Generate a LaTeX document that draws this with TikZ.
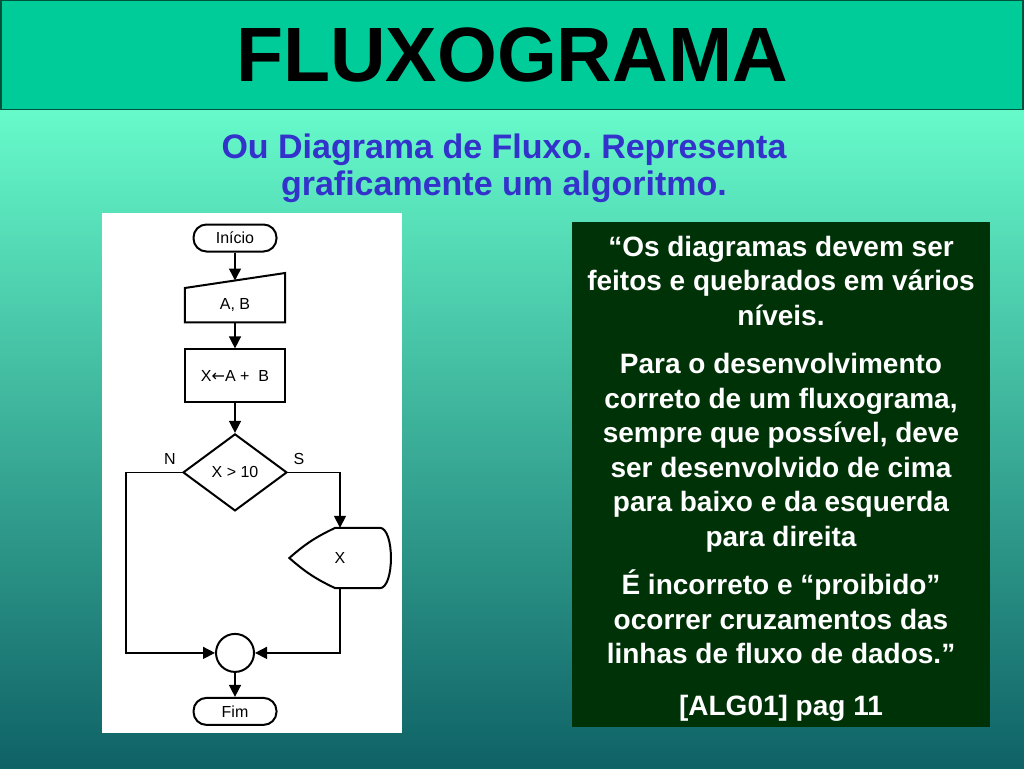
\documentclass[tikz,border=0pt]{standalone}
\usepackage{fontspec}
\setmainfont{Liberation Sans}
\newfontfamily\simbolos{DejaVu Sans}
\usetikzlibrary{arrows.meta, shapes.geometric, positioning}
\frenchspacing
\definecolor{barra}{RGB}{0,204,153}
\definecolor{menta}{RGB}{102,250,202}
\definecolor{meiotom}{RGB}{72,190,162}
\definecolor{petroleo}{RGB}{15,98,102}
\definecolor{azulsub}{RGB}{51,51,204}
\definecolor{verdeescuro}{RGB}{0,50,8}
\tikzset{%
  >={Triangle[width=12pt,length=12pt]},
  % Specifications for style of nodes:
        base/.style = {draw=black, line width=2pt, inner sep=0pt,
                           font=\fontsize{16}{18}\selectfont},
        term/.style = {base, rectangle, rounded corners=13pt,
                           minimum width=83pt, minimum height=27pt},
        manual/.style = {rectangle, inner sep=0pt, minimum width=100pt,
                           minimum height=34pt, font=\fontsize{16}{18}\selectfont},
        process/.style = {base, rectangle, minimum width=100pt, minimum height=53pt},
        if/.style = {base, diamond, minimum width=104pt, minimum height=77pt},
        display/.style = {rectangle, inner sep=0pt, minimum width=101pt,
                           minimum height=60pt, font=\fontsize{16}{18}\selectfont},
        point/.style = {base, circle, minimum size=38pt},
        rotulo/.style = {font=\fontsize{16}{18}\selectfont},
        line/.style = {draw, line width=1.5pt},
        contorno/.style = {line width=2pt}
}
\newcommand{\subtexto}{%
    Ou Diagrama de Fluxo. Representa\\
    graficamente um algoritmo.
}
\newcommand{\citacao}{%
    “Os diagramas devem ser\\
    feitos e quebrados em vários\\
    níveis.\\[14pt]
    Para o desenvolvimento\\
    correto de um fluxograma,\\
    sempre que possível, deve\\
    ser desenvolvido de cima\\
    para baixo e da esquerda\\
    para direita\\[14pt]
    É incorreto e “proibido”\\
    ocorrer cruzamentos das\\
    linhas de fluxo de dados.”\\[17pt]
    [ALG01] pag 11
}

\begin{document}
\begin{tikzpicture}[x=1pt, y=-1pt]
  \useasboundingbox (0,0) rectangle (1024,768);
  % fundo e titulo
    \shade[top color=menta, middle color=meiotom, bottom color=petroleo]
        (0,110) rectangle (1024,768);
    \node (titulo) [draw=black!60!barra, line width=1.5pt, fill=barra,
        minimum width=1022pt, minimum height=109pt, inner sep=0pt,
        font=\bfseries\fontsize{77}{80}\selectfont] at (512,55) {FLUXOGRAMA};
    \node (subtitulo) [align=center, text=azulsub,
        font=\bfseries\fontsize{34}{37}\selectfont] at (504,168) {\subtexto};
    \fill[white] (102,213) rectangle (402,733);
    \node (citacao) [fill=verdeescuro, text=white, align=center,
        minimum width=418pt, minimum height=505pt, inner sep=0pt,
        font=\bfseries\fontsize{28}{34.5}\selectfont] at (781,474.5)
        {\raisebox{-4pt}[\height][\depth]{\parbox{418pt}{\centering\citacao}}};

  % Specification of nodes (position, etc.)
    \node (inicio)       [term] at (235,238) {Início};
    \node (entrada)      [manual, below=35.5pt of inicio] {A, B};
    \node (soma)         [process, below=26pt of entrada] {X{\simbolos ←}A +\ \ B};
    \node (teste)        [if, below=29.5pt of soma] {X > 10};
    \node (saida)        [display] at (340,558) {X};
    \node (juncao)       [point, below=121pt of teste] {};
    \node (fim)          [term, below=24pt of juncao] {Fim};
    \node (rotN)         [rotulo] at (170,459) {N};
    \node (rotS)         [rotulo] at (299,459) {S};
    \coordinate (entradatopo) at ([yshift=7.5pt]entrada.north);

  % contornos das formas sem shape pronta
  \draw[contorno] (entrada.south west) -- (entrada.south east)
      -- ([yshift=15pt]entrada.north east) -- (entrada.north west) -- cycle;
  \draw[contorno] (saida.west) to[bend left=8] ([xshift=46pt]saida.north west)
      -- ([xshift=-11pt]saida.north east)
      .. controls ([xshift=4pt]saida.north east) and ([xshift=4pt]saida.south east)
      .. ([xshift=-11pt]saida.south east)
      -- ([xshift=46pt]saida.south west) to[bend left=8] (saida.west) -- cycle;

  % Specification of lines between nodes specified above
  \draw[->, line]     (inicio) -- (entradatopo);
  \draw[->, line]     (entrada) -- (soma);
  \draw[->, line]     (soma) -- (teste);
  \draw[->, line]     (teste.west) -- ++(-56,0) |- (juncao.west);
  \draw[->, line]     (teste.east) -| (saida.north);
  \draw[->, line]     (saida.south) |- (juncao.east);
  \draw[->, line]     (juncao) -- (fim);
\end{tikzpicture}
\end{document}
